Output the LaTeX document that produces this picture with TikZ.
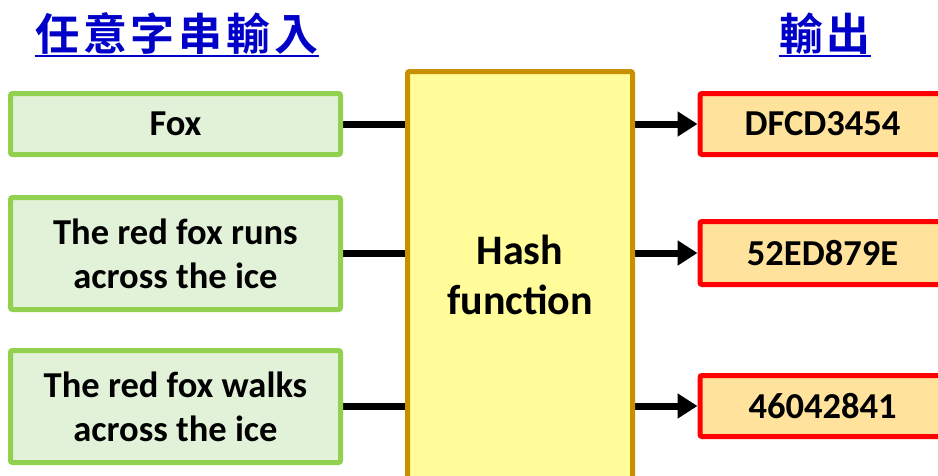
\documentclass[tikz,border=0pt]{standalone}
\usepackage{fontspec}
\setmainfont{Carlito}[BoldFont={Carlito Bold}]
\newfontfamily\cjkfont{Noto Sans CJK TC}[BoldFont={Noto Sans CJK TC Bold}, LetterSpace=9]
\usetikzlibrary{arrows.meta,backgrounds}

\definecolor{inFill}{HTML}{E2F2D8}
\definecolor{inDraw}{HTML}{92D050}
\definecolor{hashFill}{HTML}{FFFC99}
\definecolor{hashDraw}{HTML}{C89000}
\definecolor{outFill}{HTML}{FFE29B}
\definecolor{outDraw}{HTML}{FF0000}
\definecolor{titleBlue}{HTML}{0000C8}

\begin{document}
\begin{tikzpicture}[x=1pt, y=-1pt,
    inbox/.style={draw=inDraw, fill=inFill, line width=5pt, rounded corners=2pt,
        minimum width=330pt, align=center, font=\fontsize{36.5}{44}\selectfont\bfseries},
    hashbox/.style={draw=hashDraw, fill=hashFill, line width=5pt, rounded corners=2pt,
        minimum width=225pt, minimum height=407pt, align=center,
        font=\fontsize{42}{50}\selectfont\bfseries},
    outbox/.style={draw=outDraw, fill=outFill, line width=5pt, rounded corners=2pt,
        minimum width=245pt, font=\fontsize{36.5}{44}\selectfont\bfseries},
    title/.style={text=titleBlue, inner sep=0pt, font=\cjkfont\fontsize{44}{48}\selectfont\bfseries},
    uline/.style={titleBlue, line width=2.5pt},
    link/.style={black, line width=7pt}]
    \clip (0,0) rectangle (938,475);

    % Titles
    \node[title] (tin) at (177,34) {任意字串輸入};
    \node[title] (tout) at (825,34) {輸出};
    \draw[uline] ([yshift=-1pt]tin.south west) -- ([yshift=-1pt]tin.south east);
    \draw[uline] ([yshift=-1pt]tout.south west) -- ([yshift=-1pt]tout.south east);

    % Inputs
    \node[inbox, minimum height=61pt] (in1) at (175.5,124) {Fox};
    \node[inbox, minimum height=112pt] (in2) at (175.5,253.5) {The red fox runs\\across the ice};
    \node[inbox, minimum height=112pt] (in3) at (175.5,406.5) {The red fox walks\\across the ice};

    % Hash box
    \node[hashbox] (hash) at (520,275) {Hash\\function};

    % Outputs
    \node[outbox, minimum height=61pt] (out1) at (822.5,124) {DFCD3454};
    \node[outbox, minimum height=63pt] (out2) at (822.5,253) {52ED879E};
    \node[outbox, minimum height=61pt] (out3) at (822.5,406) {46042841};

    % Connectors
    \begin{scope}[on background layer]
    \foreach \i in {1,2,3} {
        \draw[link] (in\i) -- (in\i -| hash.west);
        \draw[link, -{Triangle[length=20pt, width=24pt]}] (out\i -| hash.east) -- (out\i.west);
    }
    \end{scope}

\end{tikzpicture}
\end{document}
